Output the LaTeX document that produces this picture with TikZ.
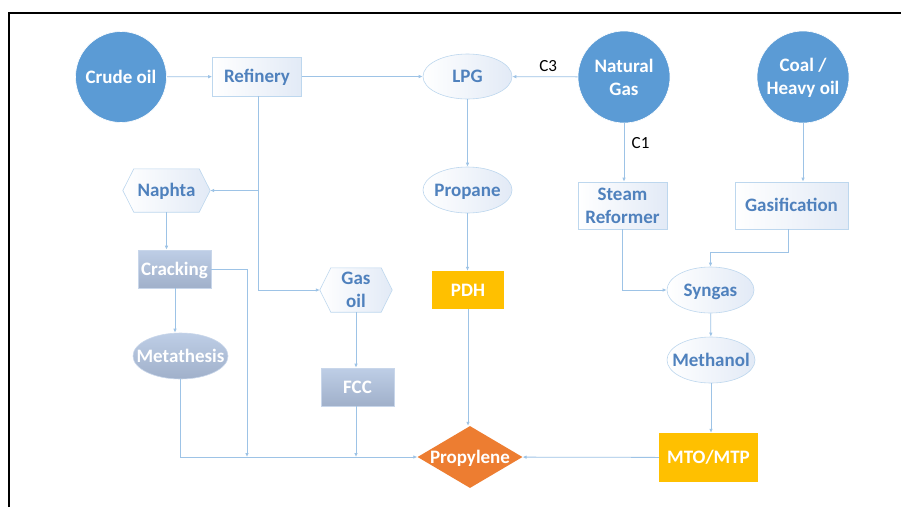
\documentclass[tikz,border=0pt]{standalone}
\usepackage{fontspec}
\setmainfont{Carlito}
\usetikzlibrary{shapes.geometric,arrows.meta}
\pgfdeclarelayer{background}
\pgfsetlayers{background,main}
\definecolor{circblue}{RGB}{91,155,213}
\definecolor{lineblue}{RGB}{157,195,230}
\definecolor{boxline}{RGB}{189,215,238}
\definecolor{lightfill}{RGB}{226,234,246}
\definecolor{textblue}{RGB}{79,129,189}
\definecolor{gtop}{RGB}{190,206,230}
\definecolor{gbot}{RGB}{160,176,202}
\definecolor{gradline}{RGB}{200,214,234}
\definecolor{yel}{RGB}{255,192,0}
\definecolor{ora}{RGB}{237,125,49}
\tikzset{
  conn/.style={draw=lineblue, line width=0.8pt, -{Latex[length=4pt,width=3.5pt]}},
  txt/.style={font=\fontsize{19}{23}\selectfont\bfseries, align=center},
  oneline/.style={text height=12.3pt, text depth=0pt},
  lightbox/.style={rectangle, draw=boxline, line width=0.6pt, left color=white, right color=lightfill, text=textblue, txt, inner sep=0pt},
  gradbox/.style={rectangle, draw=gradline, line width=0.6pt, top color=gtop, bottom color=gbot, text=white, txt, inner sep=0pt},
  solidbox/.style={rectangle, text=white, txt, inner sep=0pt},
  circnode/.style={circle, fill=circblue, draw=white, line width=0.6pt, inner sep=0pt, minimum size=91pt},
  ellnode/.style={ellipse, draw=boxline, line width=0.6pt, left color=white, right color=lightfill, inner sep=0pt},
  gradell/.style={ellipse, draw=gradline, line width=0.6pt, top color=gtop, bottom color=gbot, inner sep=0pt},
  hexnode/.style={rectangle, draw=none, text=textblue, txt, inner sep=0pt},
  hexpath/.style={draw=boxline, line width=0.6pt, left color=white, right color=lightfill},
  wlbl/.style={text=white, txt},
  blbl/.style={text=textblue, txt},
  clbl/.style={text=black, font=\fontsize{17}{20}\selectfont},
}
\newcommand\hexdraw[1]{%
  \begin{pgfonlayer}{background}
  \path[hexpath] ([xshift=11pt]#1.north west) -- ([xshift=-11pt]#1.north east) -- (#1.east)
     -- ([xshift=-11pt]#1.south east) -- ([xshift=11pt]#1.south west) -- (#1.west) -- cycle;
  \end{pgfonlayer}}
\begin{document}
\begin{tikzpicture}[x=1pt,y=-1pt]
\useasboundingbox (0,0) rectangle (901,507);
\begin{pgfonlayer}{background}
\fill[white] (0,0) rectangle (901,507);
\end{pgfonlayer}
\draw[line width=1.5pt] (9,507) -- (9,13) -- (901,13);

% sources
\node[circnode, label={[wlbl,oneline]center:{Crude oil}}] (crude) at (121,77) {};
\node[circnode, minimum size=92pt, label={[wlbl]center:{Natural\\Gas}}] (ng) at (624,77) {};
\node[circnode, minimum size=92pt, label={[wlbl,yshift=-1pt]center:{Coal /\\Heavy oil}}] (coal) at (803,77) {};

% light nodes
\node[lightbox, oneline, minimum width=89pt, minimum height=39pt] (refinery) at (257,76.5) {Refinery};
\node[ellnode, minimum width=89pt, minimum height=45pt, label={[blbl,oneline]center:LPG}] (lpg) at (467.5,76.5) {};
\node[ellnode, minimum width=89pt, minimum height=46pt, label={[blbl,oneline]center:Propane}] (propane) at (467.5,190) {};
\node[lightbox, minimum width=89pt, minimum height=47pt] (steam) at (622.5,205.5) {Steam\\Reformer};
\node[lightbox, oneline, minimum width=113pt, minimum height=47pt] (gasif) at (791.5,205.5) {Gasification};
\node[ellnode, minimum width=87pt, minimum height=46pt, label={[blbl,oneline]center:Syngas}] (syngas) at (710.5,290) {};
\node[ellnode, minimum width=88pt, minimum height=46pt, label={[blbl,oneline]center:Methanol}] (methanol) at (711,360) {};

\node[hexnode, oneline, minimum width=87pt, minimum height=43pt] (naphta) at (166.5,190.5) {Naphta};
\hexdraw{naphta}
\node[hexnode, minimum width=72pt, minimum height=44pt] (gasoil) at (356,290) {Gas\\oil};
\hexdraw{gasoil}

% gradient nodes
\node[gradbox, oneline, minimum width=73pt, minimum height=38pt] (cracking) at (174.5,269) {Cracking};
\node[gradell, minimum width=95pt, minimum height=46pt, label={[wlbl,oneline]center:Metathesis}] (meta) at (180.5,356) {};
\node[gradbox, oneline, minimum width=73pt, minimum height=38pt] (fcc) at (357.5,387) {FCC};

% coloured nodes
\node[solidbox, oneline, fill=yel, minimum width=72pt, minimum height=38pt] (pdh) at (468,290) {PDH};
\node[solidbox, oneline, fill=yel, minimum width=99pt, minimum height=49pt] (mto) at (708.5,457.5) {MTO/MTP};
\node[diamond, fill=ora, inner sep=0pt, minimum width=105pt, minimum height=62pt, label={[wlbl,oneline]center:Propylene}] (propylene) at (470,457) {};

\coordinate (j1) at (247,457);

% connectors
\draw[conn] (crude) -- (refinery);
\draw[conn] (refinery) -- (lpg);
\draw[conn] (ng) -- node[clbl, above=1pt, pos=0.45] (c3) {C3} (lpg);
\draw[conn] (ng.south) -- node[clbl, right=4pt, pos=0.33] (c1) {C1} (ng.south |- steam.north);
\draw[conn] (coal.south) -- (coal.south |- gasif.north);
\draw[conn] (lpg) -- (propane);
\draw[conn] (propane.south) -- (propane.south |- pdh.north);
\draw[conn] (pdh.south) -- (pdh.south |- propylene.north);
\draw[conn] ([xshift=1pt]refinery.south) |- (gasoil.west);
\draw[conn] ([xshift=1pt]refinery.south |- naphta.east) -- (naphta.east);
\draw[conn] (naphta.south) -- (naphta.south |- cracking.north);
\draw[conn] (cracking.east) -| (j1);
\draw[conn] ([xshift=0.5pt]cracking.south) -- ([xshift=0.5pt]cracking.south |- meta.north);
\draw[conn] (meta.south) |- (propylene.west);
\draw[conn] (gasoil.south) -- (gasoil.south |- fcc.north);
\draw[conn] (gasoil.south |- fcc.south) -- (gasoil.south |- propylene.west);
\draw[conn] (steam.south) |- (syngas.west);
\draw[conn] ([xshift=-3.5pt]gasif.south) -- ++(0,23) -| (syngas.north);
\draw[conn] (syngas) -- (methanol);
\draw[conn] (methanol.south) -- (methanol.south |- mto.north);
\draw[conn] (mto) -- (propylene);
\end{tikzpicture}
\end{document}
